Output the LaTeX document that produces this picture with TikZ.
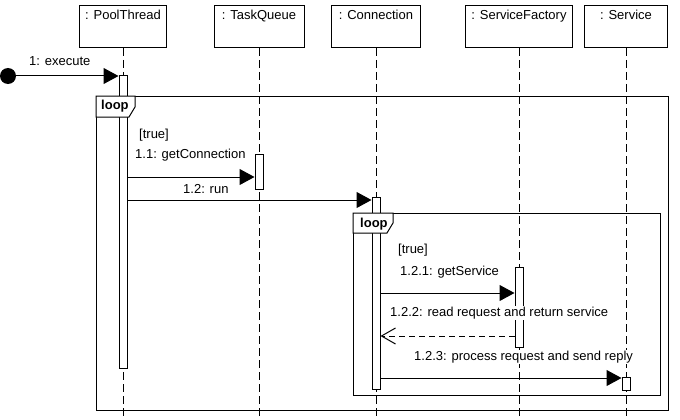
\documentclass[tikz,border=0pt]{standalone}
\usepackage{fontspec}
\setmainfont{Liberation Sans}
\usetikzlibrary{arrows.meta}

\tikzset{
  lifebox/.style={draw, line width=1pt, anchor=north, minimum height=42pt,
    text height=12pt, text depth=26pt, inner ysep=2pt, inner xsep=0pt},
  lifeline/.style={line width=1pt, dash pattern=on 8pt off 4pt},
  actbar/.style={draw, fill=white, line width=1pt, anchor=north,
    minimum width=8pt, inner sep=0pt},
  msg/.style={line width=1pt, -{Triangle[length=15pt,width=16pt]}},
  reply/.style={line width=1pt, dash pattern=on 6pt off 4pt,
    -{Straight Barb[length=14pt,width=16pt]}},
  msglabel/.style={anchor=base west, inner sep=1pt, fill=white},
  frame/.style={draw, line width=1pt, anchor=north west, inner sep=0pt},
  tab/.style={draw, fill=white, line width=1pt},
}

\begin{document}
\begin{tikzpicture}[x=1pt, y=-1pt, font=\fontsize{13}{15}\selectfont]
  \useasboundingbox (0,0) rectangle (680,420);
  \coordinate (bottom) at (0,420);

  \node [lifebox, minimum width=87pt] (pt) at (123,5) { : PoolThread };
  \node [lifebox, minimum width=90pt] (tq) at (259,5) { : TaskQueue };
  \node [lifebox, minimum width=89pt] (cn) at (376,5) { : Connection };
  \node [lifebox, minimum width=107pt] (sf) at (519,5) { : ServiceFactory };
  \node [lifebox, minimum width=83pt] (sv) at (626,5) { : Service };

  \draw [lifeline] (pt.south) -- (pt.south |- bottom);
  \draw [lifeline] (tq.south) -- (tq.south |- bottom);
  \draw [lifeline] (cn.south) -- (cn.south |- bottom);
  \draw [lifeline] (sf.south) -- (sf.south |- bottom);
  \draw [lifeline] (sv.south) -- (sv.south |- bottom);

  \node [actbar, minimum height=293pt] (actPT) at (pt.south |- 0,75) {};
  \node [actbar, minimum height=35pt] (actTQ) at (tq.south |- 0,154) {};
  \node [actbar, minimum height=192pt] (actCn) at (cn.south |- 0,197) {};
  \node [actbar, minimum height=80pt] (actSF) at (sf.south |- 0,267) {};
  \node [actbar, minimum height=13pt] (actSv) at (sv.south |- 0,377) {};

  \node [frame, minimum width=572pt, minimum height=314pt] (loopA) at (96,96) {};
  \draw [tab] (loopA.north west) -- ++(39,0) -- ++(0,11) -- ++(-6,10) -- ++(-33,0) -- cycle;
  \node [anchor=base west, inner sep=0pt] (loopAname) at (101,110) { \bfseries loop };
  \node [anchor=base west, inner sep=0pt] (guardA) at (139,138) { [true] };

  \node [frame, minimum width=307pt, minimum height=182pt] (loopB) at (353,213) {};
  \draw [tab] (loopB.north west) -- ++(40,0) -- ++(0,10) -- ++(-6,10) -- ++(-34,0) -- cycle;
  \node [anchor=base west, inner sep=0pt] (loopBname) at (360,227) { \bfseries loop };
  \node [anchor=base west, inner sep=0pt] (guardB) at (398,253) { [true] };

  \node [circle, fill, inner sep=0pt, minimum size=16pt] (start) at (8,76) {};
  \draw [msg] (start.east) -- (actPT.west |- start);
  \node [msglabel] (m1) at (28,66) { 1: execute };

  \coordinate (y11) at (0,177);
  \draw [msg] (actPT.east |- y11) -- (actTQ.west |- y11);
  \node [msglabel] (m11) at (134,158) { 1.1: getConnection };

  \coordinate (y12) at (0,200);
  \draw [msg] (actPT.east |- y12) -- (actCn.west |- y12);
  \node [msglabel] (m12) at (182,193) { 1.2: run };

  \coordinate (y121) at (0,293);
  \draw [msg] (actCn.east |- y121) -- (actSF.west |- y121);
  \node [msglabel] (m121) at (399,275) { 1.2.1: getService };

  \node [msglabel] (m122) at (389,316) { 1.2.2: read request and return service };
  \coordinate (y122) at (0,336);
  \draw [reply] (actSF.west |- y122) -- (actCn.east |- y122);

  \coordinate (y123) at (0,378);
  \draw [msg] (actCn.east |- y123) -- (actSv.west |- y123);
  \node [msglabel] (m123) at (413,360) { 1.2.3: process request and send reply };
\end{tikzpicture}
\end{document}
